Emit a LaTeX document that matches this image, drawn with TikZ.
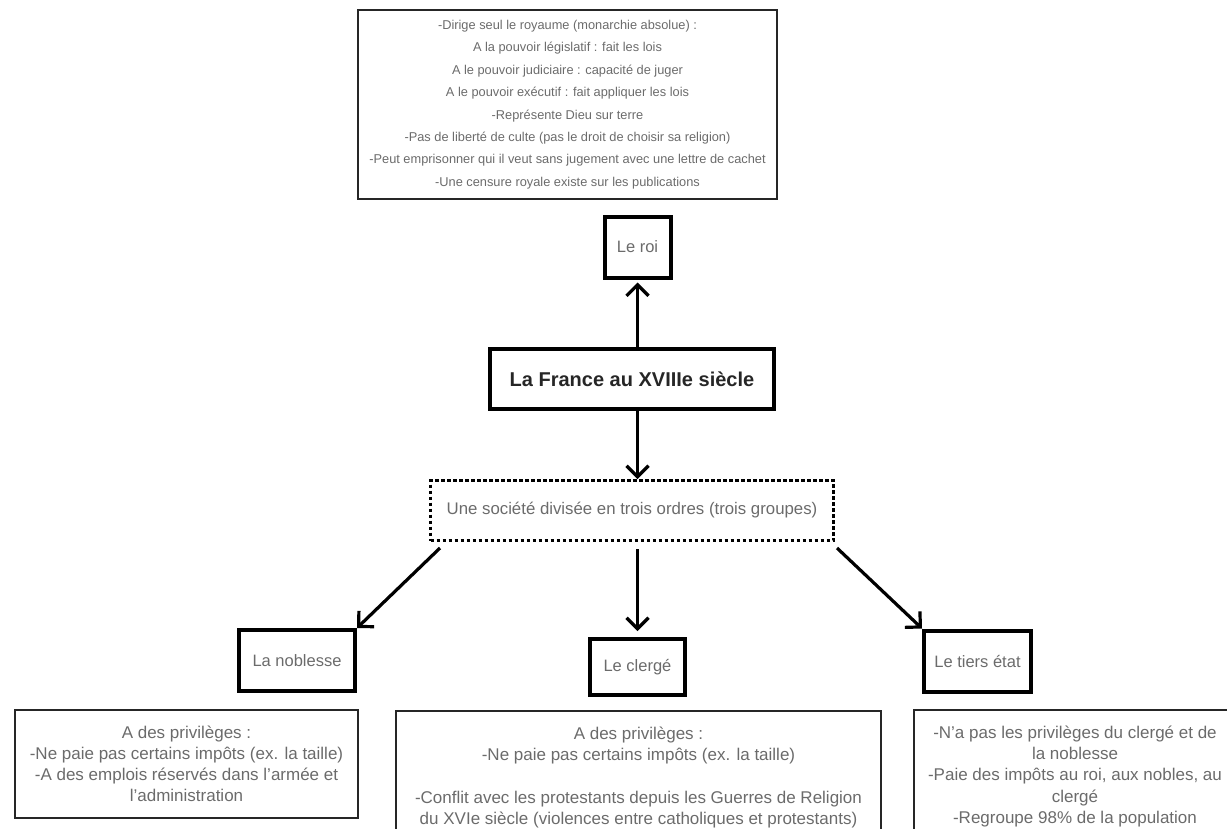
\documentclass[tikz,border=0pt]{standalone}
\usepackage{fontspec}
\setmainfont{Liberation Sans}
\usetikzlibrary{calc,positioning,arrows.meta}
\definecolor{txtgray}{gray}{0.42}
\tikzset{%
    title/.style={%
        rectangle, draw=black, line width=4pt, minimum width=284pt, minimum height=60pt, text=black!85, font=\fontsize{20}{24}\selectfont\bfseries
    },
    entity/.style={%
        rectangle, draw=black, line width=4pt, minimum height=61pt, text=txtgray, font=\fontsize{16.5}{20}\selectfont
    },
    orders/.style={%
        rectangle, draw=black, line width=3pt, dash pattern=on 3.5pt off 2.5pt, minimum width=403pt, minimum height=60pt, text=txtgray, font=\fontsize{16.8}{20}\selectfont
    },
    summary/.style={%
        rectangle, draw=black!85, line width=1.8pt, minimum width=419pt, minimum height=189pt, align=center, text=txtgray, font=\fontsize{12.8}{22.4}\selectfont
    },
    info/.style={%
        rectangle, draw=black!85, line width=1.8pt, align=center, inner xsep=14pt, inner ysep=16pt, text=txtgray, font=\fontsize{17}{21.2}\selectfont
    },
    link/.style={%
        -{Straight Barb[length=11pt,width=22pt]}, line width=3.2pt
    },
}
\begin{document}
\begin{tikzpicture}[x=1pt,y=-1pt]
  \useasboundingbox (0,0) rectangle (1227,828);
  \clip (0,0) rectangle (1227,828);

  % centre
  \node[title] (france) at (632,379) {La France au XVIIIe siècle};
  \node[entity, minimum width=66pt] (roi) at (637.5,247) {Le roi};
  \node[summary] (roiinfo) at (567.5,104.5) {-Dirige seul le royaume (monarchie absolue) :\\
    A la pouvoir législatif : fait les lois\\
    A le pouvoir judiciaire : capacité de juger\\
    A le pouvoir exécutif : fait appliquer les lois\\
    -Représente Dieu sur terre\\
    -Pas de liberté de culte (pas le droit de choisir sa religion)\\
    -Peut emprisonner qui il veut sans jugement avec une lettre de cachet\\
    -Une censure royale existe sur les publications};
  \node[orders] (societe) at (632,510.5) {Une société divisée en trois ordres (trois groupes)};

  % les trois ordres
  \node[entity, minimum width=116pt] (noblesse) at (297,660.5) {La noblesse};
  \node[entity, minimum width=95pt, minimum height=56pt] (clerge) at (637.5,667) {Le clergé};
  \node[entity, minimum width=107pt] (tiers) at (977.5,661) {Le tiers état};

  \node[info, minimum width=343pt, minimum height=102pt] (noblesseinfo) at (186.5,764) {A des privilèges :\\
    -Ne paie pas certains impôts (ex. la taille)\\
    -A des emplois réservés dans l'armée et\\
    l'administration};
  \node[info, anchor=north, minimum width=485pt, text depth=40pt] (clergeinfo) at (638.5,710) {A des privilèges :\\
    -Ne paie pas certains impôts (ex. la taille)\\[21.2pt]
    -Conflit avec les protestants depuis les Guerres de Religion\\
    du XVIe siècle (violences entre catholiques et protestants)};
  \node[info, anchor=north, minimum width=310pt, text depth=40pt] (tiersinfo) at (1075,709) {-N'a pas les privilèges du clergé et de\\
    la noblesse\\
    -Paie des impôts au roi, aux nobles, au\\
    clergé\\
    -Regroupe 98\% de la population};

  \draw[link] (france.north -| roi.south) -- ([yshift=-3pt]roi.south);
  \draw[link] (france.south -| roi.south) -- (societe.north -| roi.south);
  \draw[link] ($(societe.south west)+(11,6)$) -- (noblesse.north east);
  \draw[link] ($(societe.south -| clerge.north)+(0,7)$) -- ([yshift=6pt]clerge.north);
  \draw[link] ($(societe.south east)+(2,6)$) -- (tiers.north west);
\end{tikzpicture}
\end{document}
